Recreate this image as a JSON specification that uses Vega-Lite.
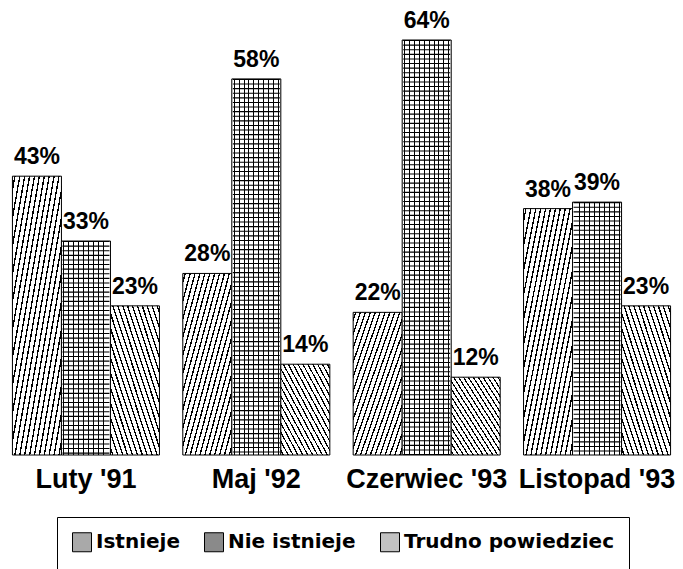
{
  "$schema": "https://vega.github.io/schema/vega-lite/v6.json",
  "width": 683,
  "height": 415,
  "autosize": {"type": "none"},
  "padding": {"left": 0, "right": 0, "top": 40, "bottom": 114},
  "background": "white",
  "config": {"view": {"stroke": null}},
  "data": {
    "values": [
      {"okres": "Luty '91", "odp": "Istnieje", "pct": 0.43},
      {"okres": "Luty '91", "odp": "Nie istnieje", "pct": 0.33},
      {"okres": "Luty '91", "odp": "Trudno powiedziec", "pct": 0.23},
      {"okres": "Maj '92", "odp": "Istnieje", "pct": 0.28},
      {"okres": "Maj '92", "odp": "Nie istnieje", "pct": 0.58},
      {"okres": "Maj '92", "odp": "Trudno powiedziec", "pct": 0.14},
      {"okres": "Czerwiec '93", "odp": "Istnieje", "pct": 0.22},
      {"okres": "Czerwiec '93", "odp": "Nie istnieje", "pct": 0.64},
      {"okres": "Czerwiec '93", "odp": "Trudno powiedziec", "pct": 0.12},
      {"okres": "Listopad '93", "odp": "Istnieje", "pct": 0.38},
      {"okres": "Listopad '93", "odp": "Nie istnieje", "pct": 0.39},
      {"okres": "Listopad '93", "odp": "Trudno powiedziec", "pct": 0.23}
    ]
  },
  "encoding": {
    "x": {
      "field": "okres",
      "type": "nominal",
      "sort": ["Luty '91", "Maj '92", "Czerwiec '93", "Listopad '93"],
      "scale": {"paddingInner": 0.137, "paddingOuter": 0.073},
      "title": null,
      "axis": {
        "domain": false,
        "ticks": false,
        "tickSize": 0,
        "labelAngle": 0,
        "labelPadding": 32,
        "labelBaseline": "alphabetic",
        "labelFont": "Liberation Sans",
        "labelFontWeight": "bold",
        "labelFontSize": 27,
        "labelColor": "black"
      }
    },
    "y": {
      "field": "pct",
      "type": "quantitative",
      "scale": {"domain": [0, 0.64], "nice": false},
      "axis": null
    }
  },
  "layer": [
    {
      "mark": {"type": "bar", "strokeWidth": 0, "fillOpacity": 1},
      "encoding": {
        "xOffset": {
          "field": "odp",
          "type": "nominal",
          "sort": ["Istnieje", "Nie istnieje", "Trudno powiedziec"],
          "scale": {"paddingInner": 0, "paddingOuter": 0}
        },
        "fill": {
          "field": "odp",
          "type": "nominal",
          "scale": {
            "domain": ["Istnieje", "Nie istnieje", "Trudno powiedziec"],
            "range": ["#a9a9a9", "#8a8a8a", "#c2c2c2"]
          },
          "legend": {
            "orient": "none",
            "legendX": 57,
            "legendY": 477,
            "direction": "horizontal",
            "title": null,
            "strokeColor": "black",
            "fillColor": "white",
            "padding": 15,
            "symbolType": "square",
            "symbolSize": 361,
            "symbolStrokeColor": "black",
            "symbolStrokeWidth": 1,
            "symbolOpacity": 1,
            "labelFont": "DejaVu Sans",
            "labelFontWeight": "bold",
            "labelFontSize": 20,
            "labelColor": "black",
            "labelLimit": 400,
            "labelOffset": 4,
            "columnPadding": 22
          }
        }
      }
    },
    {
      "mark": {"type": "bar", "stroke": "black", "strokeWidth": 1, "fillOpacity": 1},
      "encoding": {
        "xOffset": {
          "field": "odp",
          "type": "nominal",
          "sort": ["Istnieje", "Nie istnieje", "Trudno powiedziec"],
          "scale": {"paddingInner": 0, "paddingOuter": 0}
        },
        "fill": {
          "condition": [
            {"test": "datum.odp === 'Istnieje'", "value":
              {"gradient": "linear", "x1": 0, "y1": 0, "x2": 1, "y2": 1, "stops": [
                {"offset": 0, "color": "white"},
                {"offset": 0.018, "color": "white"}, {"offset": 0.018, "color": "black"}, {"offset": 0.032, "color": "black"}, {"offset": 0.032, "color": "white"},
                {"offset": 0.068, "color": "white"}, {"offset": 0.068, "color": "black"}, {"offset": 0.082, "color": "black"}, {"offset": 0.082, "color": "white"},
                {"offset": 0.118, "color": "white"}, {"offset": 0.118, "color": "black"}, {"offset": 0.132, "color": "black"}, {"offset": 0.132, "color": "white"},
                {"offset": 0.168, "color": "white"}, {"offset": 0.168, "color": "black"}, {"offset": 0.182, "color": "black"}, {"offset": 0.182, "color": "white"},
                {"offset": 0.218, "color": "white"}, {"offset": 0.218, "color": "black"}, {"offset": 0.232, "color": "black"}, {"offset": 0.232, "color": "white"},
                {"offset": 0.268, "color": "white"}, {"offset": 0.268, "color": "black"}, {"offset": 0.282, "color": "black"}, {"offset": 0.282, "color": "white"},
                {"offset": 0.318, "color": "white"}, {"offset": 0.318, "color": "black"}, {"offset": 0.332, "color": "black"}, {"offset": 0.332, "color": "white"},
                {"offset": 0.368, "color": "white"}, {"offset": 0.368, "color": "black"}, {"offset": 0.382, "color": "black"}, {"offset": 0.382, "color": "white"},
                {"offset": 0.418, "color": "white"}, {"offset": 0.418, "color": "black"}, {"offset": 0.432, "color": "black"}, {"offset": 0.432, "color": "white"},
                {"offset": 0.468, "color": "white"}, {"offset": 0.468, "color": "black"}, {"offset": 0.482, "color": "black"}, {"offset": 0.482, "color": "white"},
                {"offset": 0.518, "color": "white"}, {"offset": 0.518, "color": "black"}, {"offset": 0.532, "color": "black"}, {"offset": 0.532, "color": "white"},
                {"offset": 0.568, "color": "white"}, {"offset": 0.568, "color": "black"}, {"offset": 0.582, "color": "black"}, {"offset": 0.582, "color": "white"},
                {"offset": 0.618, "color": "white"}, {"offset": 0.618, "color": "black"}, {"offset": 0.632, "color": "black"}, {"offset": 0.632, "color": "white"},
                {"offset": 0.668, "color": "white"}, {"offset": 0.668, "color": "black"}, {"offset": 0.682, "color": "black"}, {"offset": 0.682, "color": "white"},
                {"offset": 0.718, "color": "white"}, {"offset": 0.718, "color": "black"}, {"offset": 0.732, "color": "black"}, {"offset": 0.732, "color": "white"},
                {"offset": 0.768, "color": "white"}, {"offset": 0.768, "color": "black"}, {"offset": 0.782, "color": "black"}, {"offset": 0.782, "color": "white"},
                {"offset": 0.818, "color": "white"}, {"offset": 0.818, "color": "black"}, {"offset": 0.832, "color": "black"}, {"offset": 0.832, "color": "white"},
                {"offset": 0.868, "color": "white"}, {"offset": 0.868, "color": "black"}, {"offset": 0.882, "color": "black"}, {"offset": 0.882, "color": "white"},
                {"offset": 0.918, "color": "white"}, {"offset": 0.918, "color": "black"}, {"offset": 0.932, "color": "black"}, {"offset": 0.932, "color": "white"},
                {"offset": 0.968, "color": "white"}, {"offset": 0.968, "color": "black"}, {"offset": 0.982, "color": "black"}, {"offset": 0.982, "color": "white"},
                {"offset": 1, "color": "white"}
              ]}
            },
            {"test": "datum.odp === 'Nie istnieje'", "value":
              {"gradient": "linear", "x1": 0, "y1": 0, "x2": 1, "y2": 0, "stops": [
                {"offset": 0, "color": "white"},
                {"offset": 0.04, "color": "white"}, {"offset": 0.04, "color": "black"}, {"offset": 0.06, "color": "black"}, {"offset": 0.06, "color": "white"},
                {"offset": 0.14, "color": "white"}, {"offset": 0.14, "color": "black"}, {"offset": 0.16, "color": "black"}, {"offset": 0.16, "color": "white"},
                {"offset": 0.24, "color": "white"}, {"offset": 0.24, "color": "black"}, {"offset": 0.26, "color": "black"}, {"offset": 0.26, "color": "white"},
                {"offset": 0.34, "color": "white"}, {"offset": 0.34, "color": "black"}, {"offset": 0.36, "color": "black"}, {"offset": 0.36, "color": "white"},
                {"offset": 0.44, "color": "white"}, {"offset": 0.44, "color": "black"}, {"offset": 0.46, "color": "black"}, {"offset": 0.46, "color": "white"},
                {"offset": 0.54, "color": "white"}, {"offset": 0.54, "color": "black"}, {"offset": 0.56, "color": "black"}, {"offset": 0.56, "color": "white"},
                {"offset": 0.64, "color": "white"}, {"offset": 0.64, "color": "black"}, {"offset": 0.66, "color": "black"}, {"offset": 0.66, "color": "white"},
                {"offset": 0.74, "color": "white"}, {"offset": 0.74, "color": "black"}, {"offset": 0.76, "color": "black"}, {"offset": 0.76, "color": "white"},
                {"offset": 0.84, "color": "white"}, {"offset": 0.84, "color": "black"}, {"offset": 0.86, "color": "black"}, {"offset": 0.86, "color": "white"},
                {"offset": 0.94, "color": "white"}, {"offset": 0.94, "color": "black"}, {"offset": 0.96, "color": "black"}, {"offset": 0.96, "color": "white"},
                {"offset": 1, "color": "white"}
              ]}
            }
          ],
          "value": {"gradient": "linear", "x1": 0, "y1": 1, "x2": 1, "y2": 0, "stops": [
                {"offset": 0, "color": "white"},
                {"offset": 0.018, "color": "white"}, {"offset": 0.018, "color": "black"}, {"offset": 0.032, "color": "black"}, {"offset": 0.032, "color": "white"},
                {"offset": 0.068, "color": "white"}, {"offset": 0.068, "color": "black"}, {"offset": 0.082, "color": "black"}, {"offset": 0.082, "color": "white"},
                {"offset": 0.118, "color": "white"}, {"offset": 0.118, "color": "black"}, {"offset": 0.132, "color": "black"}, {"offset": 0.132, "color": "white"},
                {"offset": 0.168, "color": "white"}, {"offset": 0.168, "color": "black"}, {"offset": 0.182, "color": "black"}, {"offset": 0.182, "color": "white"},
                {"offset": 0.218, "color": "white"}, {"offset": 0.218, "color": "black"}, {"offset": 0.232, "color": "black"}, {"offset": 0.232, "color": "white"},
                {"offset": 0.268, "color": "white"}, {"offset": 0.268, "color": "black"}, {"offset": 0.282, "color": "black"}, {"offset": 0.282, "color": "white"},
                {"offset": 0.318, "color": "white"}, {"offset": 0.318, "color": "black"}, {"offset": 0.332, "color": "black"}, {"offset": 0.332, "color": "white"},
                {"offset": 0.368, "color": "white"}, {"offset": 0.368, "color": "black"}, {"offset": 0.382, "color": "black"}, {"offset": 0.382, "color": "white"},
                {"offset": 0.418, "color": "white"}, {"offset": 0.418, "color": "black"}, {"offset": 0.432, "color": "black"}, {"offset": 0.432, "color": "white"},
                {"offset": 0.468, "color": "white"}, {"offset": 0.468, "color": "black"}, {"offset": 0.482, "color": "black"}, {"offset": 0.482, "color": "white"},
                {"offset": 0.518, "color": "white"}, {"offset": 0.518, "color": "black"}, {"offset": 0.532, "color": "black"}, {"offset": 0.532, "color": "white"},
                {"offset": 0.568, "color": "white"}, {"offset": 0.568, "color": "black"}, {"offset": 0.582, "color": "black"}, {"offset": 0.582, "color": "white"},
                {"offset": 0.618, "color": "white"}, {"offset": 0.618, "color": "black"}, {"offset": 0.632, "color": "black"}, {"offset": 0.632, "color": "white"},
                {"offset": 0.668, "color": "white"}, {"offset": 0.668, "color": "black"}, {"offset": 0.682, "color": "black"}, {"offset": 0.682, "color": "white"},
                {"offset": 0.718, "color": "white"}, {"offset": 0.718, "color": "black"}, {"offset": 0.732, "color": "black"}, {"offset": 0.732, "color": "white"},
                {"offset": 0.768, "color": "white"}, {"offset": 0.768, "color": "black"}, {"offset": 0.782, "color": "black"}, {"offset": 0.782, "color": "white"},
                {"offset": 0.818, "color": "white"}, {"offset": 0.818, "color": "black"}, {"offset": 0.832, "color": "black"}, {"offset": 0.832, "color": "white"},
                {"offset": 0.868, "color": "white"}, {"offset": 0.868, "color": "black"}, {"offset": 0.882, "color": "black"}, {"offset": 0.882, "color": "white"},
                {"offset": 0.918, "color": "white"}, {"offset": 0.918, "color": "black"}, {"offset": 0.932, "color": "black"}, {"offset": 0.932, "color": "white"},
                {"offset": 0.968, "color": "white"}, {"offset": 0.968, "color": "black"}, {"offset": 0.982, "color": "black"}, {"offset": 0.982, "color": "white"},
                {"offset": 1, "color": "white"}
          ]}
        }
      }
    },
    {
      "transform": [{"filter": "datum.odp === 'Nie istnieje'"}],
      "mark": {"type": "rule", "color": "black", "strokeWidth": 47, "strokeDash": [1.1, 3.5]},
      "encoding": {
        "y2": {"datum": 0}
      }
    },
    {
      "mark": {
        "type": "text",
        "baseline": "alphabetic",
        "dy": -12,
        "font": "Liberation Sans",
        "fontWeight": "bold",
        "fontSize": 23,
        "color": "black"
      },
      "encoding": {
        "xOffset": {
          "field": "odp",
          "type": "nominal",
          "sort": ["Istnieje", "Nie istnieje", "Trudno powiedziec"],
          "scale": {"paddingInner": 0, "paddingOuter": 0}
        },
        "text": {"field": "pct", "type": "quantitative", "format": ".0%"}
      }
    }
  ]
}
